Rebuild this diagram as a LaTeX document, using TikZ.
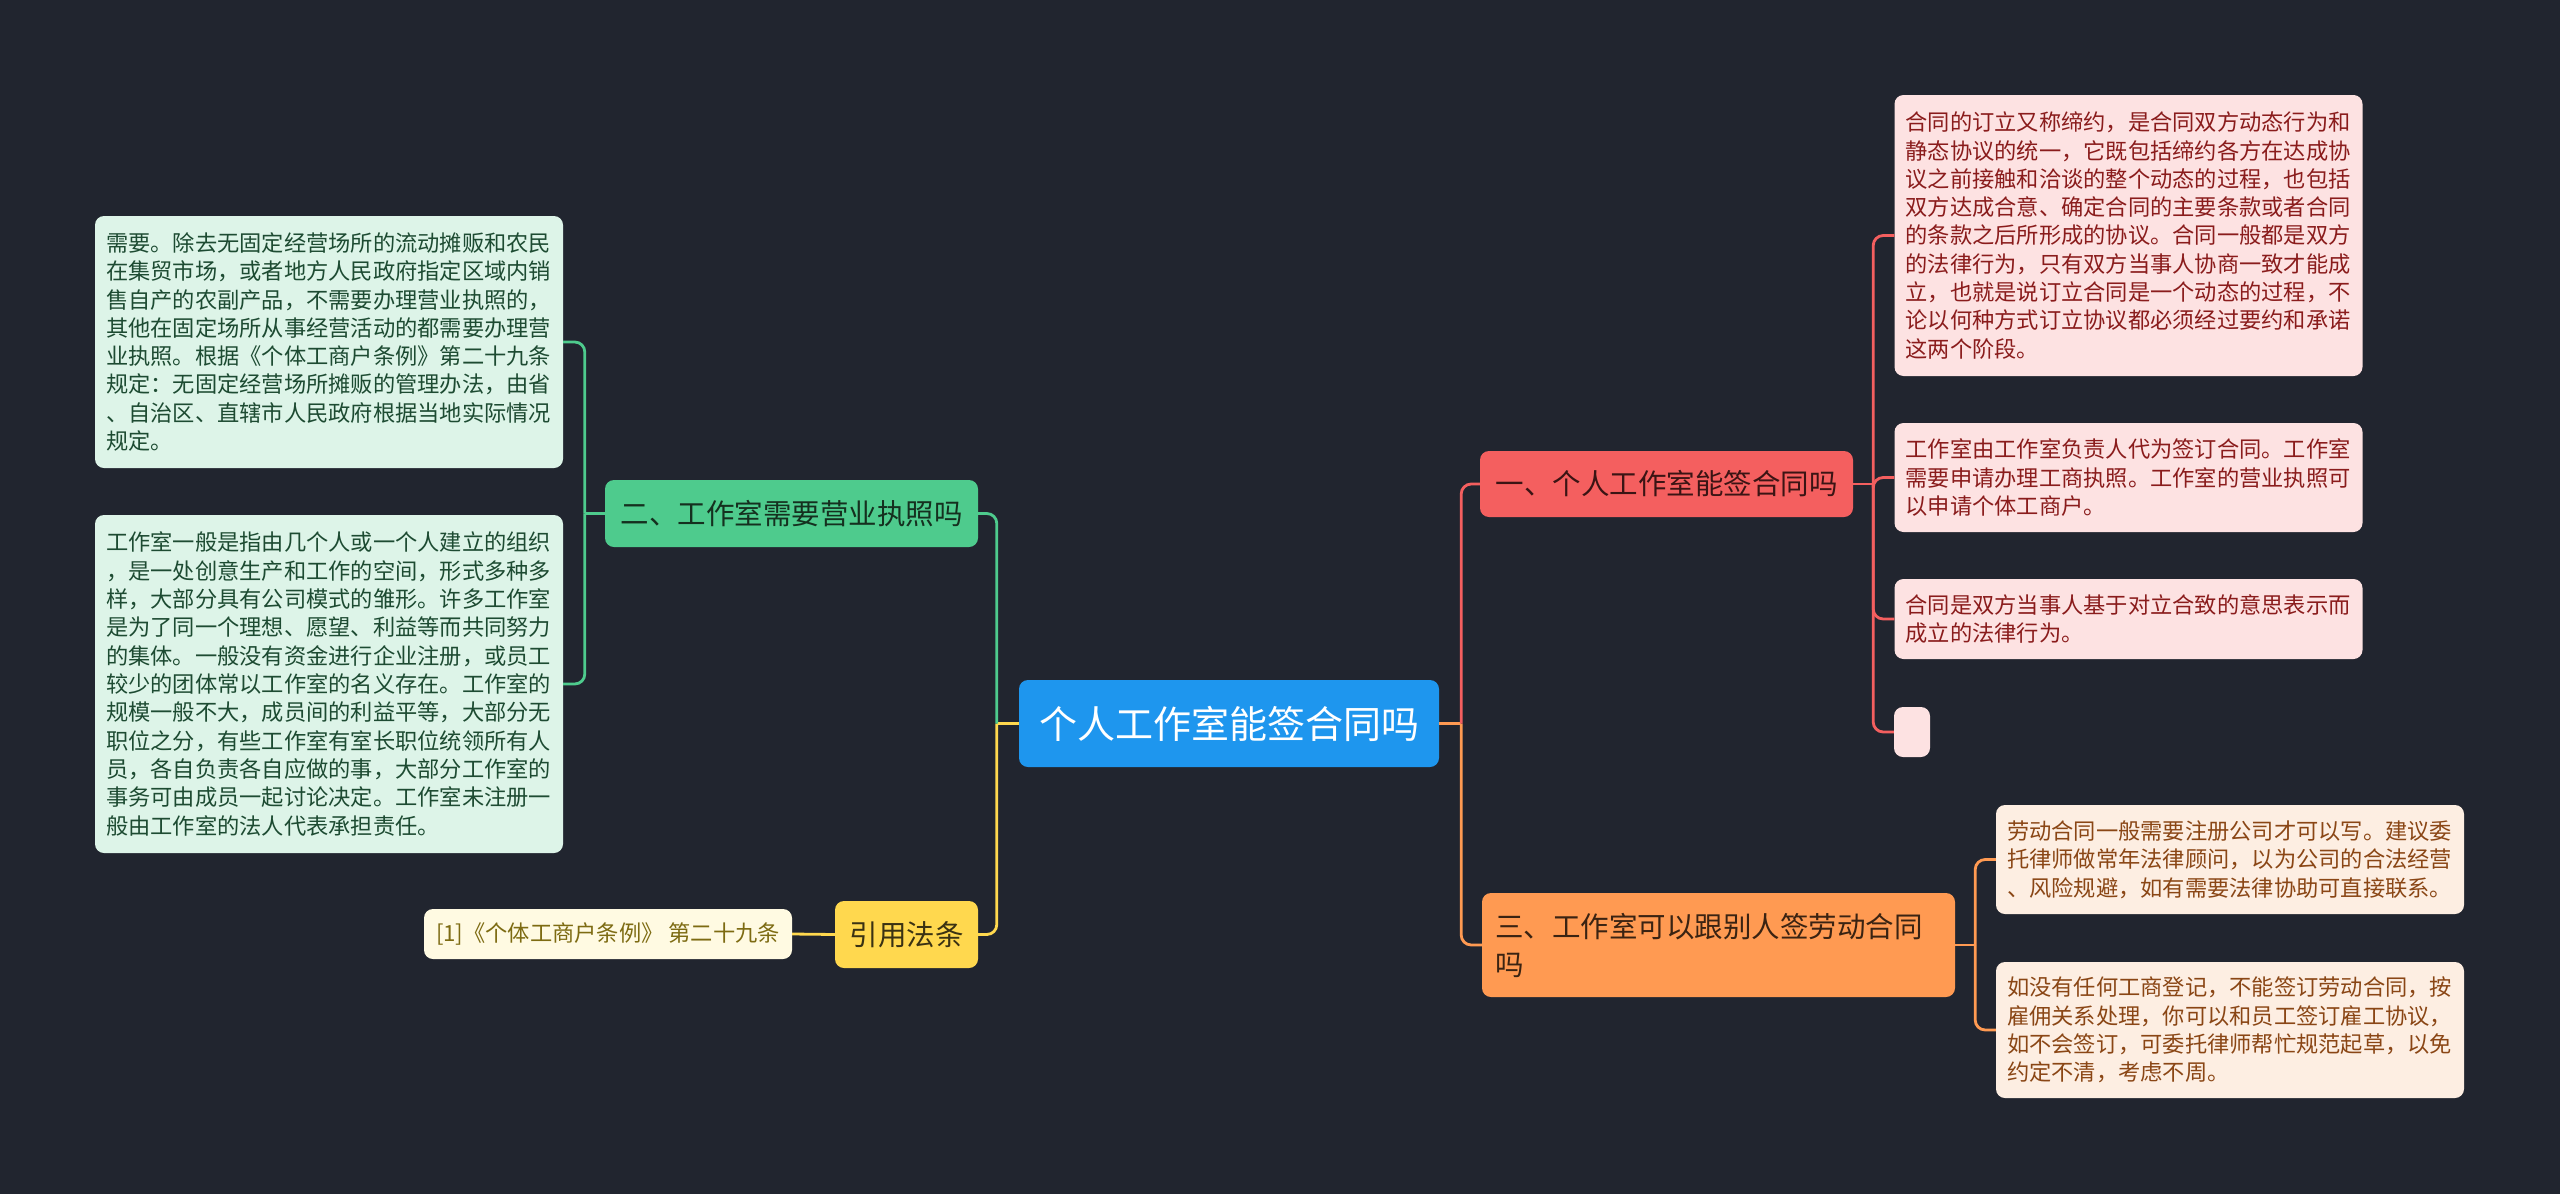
\documentclass[tikz,border=0pt]{standalone}
\usepackage{fontspec}
\setmainfont{Noto Sans CJK SC}
\definecolor{bg}{HTML}{21252F}
\definecolor{rootblue}{HTML}{1E96EE}
\definecolor{redmain}{HTML}{F45F5F}
\definecolor{redleaf}{HTML}{FDE2E2}
\definecolor{redtext}{HTML}{8A1C1C}
\definecolor{redhead}{HTML}{3B1414}
\definecolor{greenmain}{HTML}{4ECB8D}
\definecolor{greenleaf}{HTML}{DDF4E8}
\definecolor{greentext}{HTML}{1D4B32}
\definecolor{greenhead}{HTML}{15301F}
\definecolor{orangemain}{HTML}{FF9A52}
\definecolor{orangeleaf}{HTML}{FDEEE2}
\definecolor{orangetext}{HTML}{8A4615}
\definecolor{orangehead}{HTML}{3A2312}
\definecolor{yellowmain}{HTML}{FFD84E}
\definecolor{yellowleaf}{HTML}{FFFAE2}
\definecolor{yellowtext}{HTML}{7D6B12}
\definecolor{yellowhead}{HTML}{3A3213}

\begin{document}
\begin{tikzpicture}[x=1pt, y=-1pt,
    every node/.style={rounded corners=9pt, inner sep=0pt}, % boxes of the map
    root/.style={fill=rootblue, text=white, font=\fontsize{38}{44}\selectfont},
    branch/.style={font=\fontsize{28.5}{38}\selectfont},
    leaf/.style={font=\fontsize{22.25}{28.33}\selectfont, align=left, inner xsep=11pt},
    para/.style={text width=446pt},
    link/.style={line width=2.8pt, rounded corners=10pt}
  ]
  \fill[bg] (0,0) rectangle (2560,1194);
  \useasboundingbox (0,0) rectangle (2560,1194);

  % root
  \node[root, minimum width=420pt, minimum height=87pt] (ctr) at (1229,723.5) {个人工作室能签合同吗};

  % main branches
  \node[branch, fill=redmain, text=redhead, minimum width=373pt, minimum height=66pt] (b1) at (1666.5,484) {一、个人工作室能签合同吗};
  \node[branch, fill=greenmain, text=greenhead, minimum width=373pt, minimum height=67pt] (b2) at (791.5,513.5) {二、工作室需要营业执照吗};
  \node[branch, fill=orangemain, text=orangehead, align=left, inner xsep=13pt, text width=447pt, minimum height=104pt] (b3) at (1718.5,945) {三、工作室可以跟别人签劳动合同\\吗};
  \node[branch, fill=yellowmain, text=yellowhead, minimum width=143pt, minimum height=67pt] (lawref) at (906.5,934.5) {引用法条};

  % leaves of b1
  \node[leaf, para, fill=redleaf, text=redtext, minimum height=281pt] (b1a) at (2128.5,235.5) {合同的订立又称缔约，是合同双方动态行为和\\
    静态协议的统一，它既包括缔约各方在达成协\\
    议之前接触和洽谈的整个动态的过程，也包括\\
    双方达成合意、确定合同的主要条款或者合同\\
    的条款之后所形成的协议。合同一般都是双方\\
    的法律行为，只有双方当事人协商一致才能成\\
    立，也就是说订立合同是一个动态的过程，不\\
    论以何种方式订立协议都必须经过要约和承诺\\
    这两个阶段。};
  \node[leaf, para, fill=redleaf, text=redtext, minimum height=109pt] (b1b) at (2128.5,477.5) {工作室由工作室负责人代为签订合同。工作室\\
    需要申请办理工商执照。工作室的营业执照可\\
    以申请个体工商户。};
  \node[leaf, para, fill=redleaf, text=redtext, minimum height=80pt] (b1c) at (2128.5,619) {合同是双方当事人基于对立合致的意思表示而\\
    成立的法律行为。};
  \node[leaf, fill=redleaf, inner xsep=0pt, minimum width=36pt, minimum height=50pt] (b1d) at (1912,732) {};

  % leaves of b2
  \node[leaf, para, fill=greenleaf, text=greentext, minimum height=252pt] (b2a) at (329,342) {需要。除去无固定经营场所的流动摊贩和农民\\
    在集贸市场，或者地方人民政府指定区域内销\\
    售自产的农副产品，不需要办理营业执照的，\\
    其他在固定场所从事经营活动的都需要办理营\\
    业执照。根据《个体工商户条例》第二十九条\\
    规定：无固定经营场所摊贩的管理办法，由省\\
    、自治区、直辖市人民政府根据当地实际情况\\
    规定。};
  \node[leaf, para, fill=greenleaf, text=greentext, minimum height=338pt] (b2b) at (329,684) {工作室一般是指由几个人或一个人建立的组织\\
    ，是一处创意生产和工作的空间，形式多种多\\
    样，大部分具有公司模式的雏形。许多工作室\\
    是为了同一个理想、愿望、利益等而共同努力\\
    的集体。一般没有资金进行企业注册，或员工\\
    较少的团体常以工作室的名义存在。工作室的\\
    规模一般不大，成员间的利益平等，大部分无\\
    职位之分，有些工作室有室长职位统领所有人\\
    员，各自负责各自应做的事，大部分工作室的\\
    事务可由成员一起讨论决定。工作室未注册一\\
    般由工作室的法人代表承担责任。};

  % leaves of b3
  \node[leaf, para, fill=orangeleaf, text=orangetext, minimum height=109pt] (b3a) at (2230,859.5) {劳动合同一般需要注册公司才可以写。建议委\\
    托律师做常年法律顾问，以为公司的合法经营\\
    、风险规避，如有需要法律协助可直接联系。};
  \node[leaf, para, fill=orangeleaf, text=orangetext, minimum height=136pt] (b3b) at (2230,1030) {如没有任何工商登记，不能签订劳动合同，按\\
    雇佣关系处理，你可以和员工签订雇工协议，\\
    如不会签订，可委托律师帮忙规范起草，以免\\
    约定不清，考虑不周。};

  % leaf of lawref
  \node[leaf, fill=yellowleaf, text=yellowtext, minimum width=368pt, minimum height=50pt] (lawa) at (608,934) {[1]《个体工商户条例》 第二十九条};

  % connectors from the root
  \draw[link, orangemain] (ctr.east) -- ++(22,0) coordinate (jr);
  \draw[link, orangemain] (jr) |- (b3.west);
  \draw[link, redmain] (jr) |- (b1.west);
  \draw[link, yellowmain] (ctr.west) -- ++(-22,0) coordinate (jl);
  \draw[link, yellowmain] (jl) |- (lawref.east);
  \draw[link, greenmain] (jl) |- (b2.east);

  % connectors to the leaves
  \draw[link, redmain] (b1.east) -- ++(20,0) coordinate (j1);
  \foreach \leafname in {b1a, b1b, b1c, b1d}
    \draw[link, redmain] (j1) |- (\leafname.west);
  \draw[link, greenmain] (b2.west) -- ++(-20,0) coordinate (j2);
  \foreach \leafname in {b2a, b2b}
    \draw[link, greenmain] (j2) |- (\leafname.east);
  \draw[link, orangemain] (b3.east) -- ++(20,0) coordinate (j3);
  \foreach \leafname in {b3a, b3b}
    \draw[link, orangemain] (j3) |- (\leafname.west);
  \draw[link, yellowmain] (lawref.west) -- (lawa.east);
\end{tikzpicture}
\end{document}
